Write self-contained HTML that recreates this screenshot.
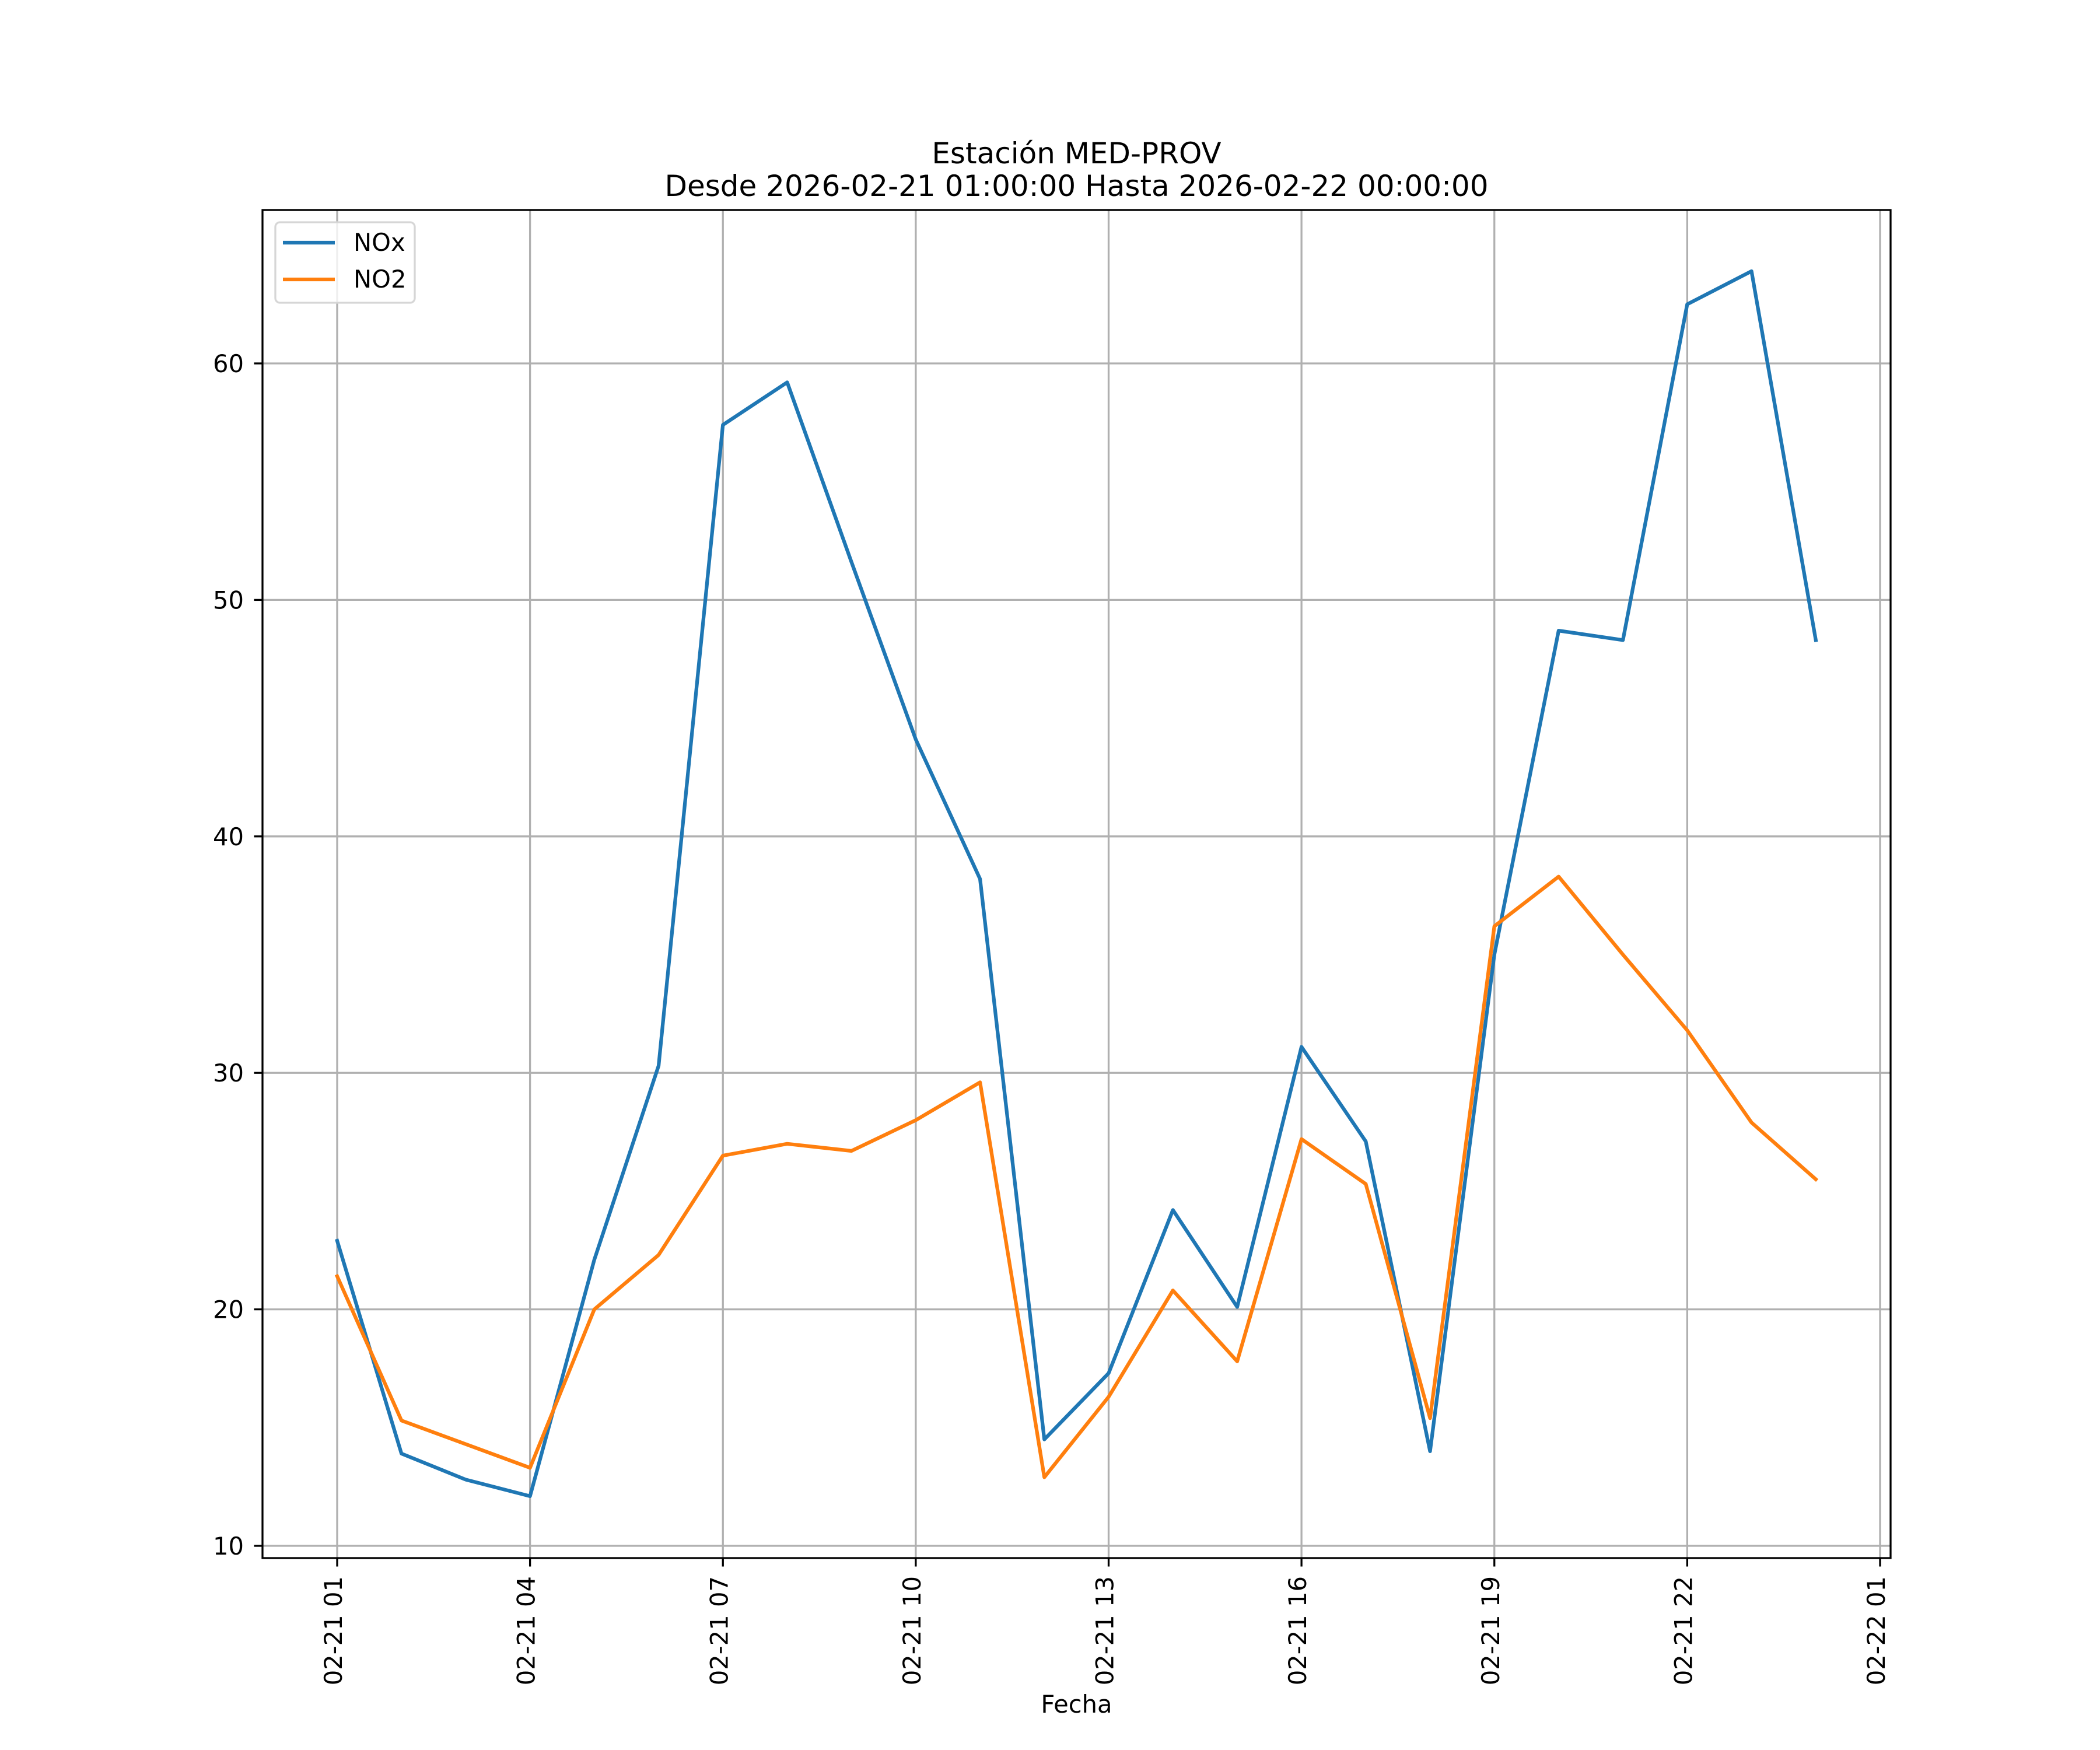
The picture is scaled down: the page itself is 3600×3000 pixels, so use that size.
<!DOCTYPE html>
<html><head><meta charset="utf-8"><style>
html,body{margin:0;padding:0;background:#fff}
svg{display:block}
text{font-family:"DejaVu Sans","Liberation Sans",sans-serif;fill:#000}
</style></head><body>
<svg id="chart" width="3600" height="3000" viewBox="0 0 3600 3000" xmlns="http://www.w3.org/2000/svg">
<rect width="3600" height="3000" fill="#fff"/>
<g id="grid"></g>
<g id="series"></g>
<rect x="450" y="360" width="2791" height="2311" fill="none" stroke="#000" stroke-width="3.3"/>
<g id="ticks"></g>
<text x="1845.5" y="280" font-size="50" text-anchor="middle">Estación MED-PROV</text>
<text x="1845.5" y="336" font-size="50" text-anchor="middle">Desde 2026-02-21 01:00:00 Hasta 2026-02-22 00:00:00</text>
<text x="1845.5" y="2936" font-size="41.67" text-anchor="middle">Fecha</text>
<g>
<rect x="472" y="381" width="239" height="138" fill="#fff" fill-opacity="0.8" stroke="#d6d6d6" stroke-width="3.3" rx="8"/>
<line x1="485" y1="416" x2="574" y2="416" stroke="#1f77b4" stroke-width="6.25"/>
<text x="606" y="430" font-size="41.67">NOx</text>
<line x1="485" y1="479" x2="574" y2="479" stroke="#ff7f0e" stroke-width="6.25"/>
<text x="606" y="493" font-size="41.67">NO2</text>
</g>
</svg>
<script>
const hours = [1,2,3,4,5,6,7,8,9,10,11,12,13,14,15,16,17,18,19,20,21,22,23,24];
const noxValues = [22.9,13.9,12.8,12.1,22.1,30.3,57.4,59.2,51.6,44.1,38.2,14.5,17.3,24.2,20.1,31.1,27.1,14.0,35.0,48.7,48.3,62.5,63.9,48.3];
const no2Values = [21.4,15.3,14.3,13.3,20.0,22.3,26.5,27.0,26.7,28.0,29.6,12.9,16.3,20.8,17.8,27.2,25.3,15.4,36.2,38.3,35.0,31.8,27.9,25.5];
const yTicks = [10,20,30,40,50,60];
const xTickHours = [1,4,7,10,13,16,19,22,25];
const xTickLabels = ["02-21 01","02-21 04","02-21 07","02-21 10","02-21 13","02-21 16","02-21 19","02-21 22","02-22 01"];

const NS="http://www.w3.org/2000/svg";
function xs(h){return 578+(h-1)*(3223-578)/24;}
function ys(v){return 2650-(v-10)*(2650-623)/50;}
function mk(tag,attrs,parent){const e=document.createElementNS(NS,tag);for(const k in attrs)e.setAttribute(k,attrs[k]);parent.appendChild(e);return e;}
const grid=document.getElementById('grid'),ticks=document.getElementById('ticks'),series=document.getElementById('series');
yTicks.forEach(v=>{
  const y=ys(v);
  const g=mk('line',{x1:450,x2:3241,y1:y,y2:y,stroke:'#b0b0b0','stroke-width':3.3},grid);
  
  
  const t=mk('line',{x1:435.5,x2:450,y1:y,y2:y,stroke:'#000','stroke-width':3.3},ticks);
  
  
  const l=mk('text',{x:418,y:y+15,'font-size':41.67,'text-anchor':'end'},ticks);
  l.textContent=v;
  
  
});
xTickHours.forEach((h,i)=>{
  const x=xs(h);
  const g=mk('line',{x1:x,x2:x,y1:360,y2:2671,stroke:'#b0b0b0','stroke-width':3.3},grid);
  
  
  const t=mk('line',{x1:x,x2:x,y1:2671,y2:2685.5,stroke:'#000','stroke-width':3.3},ticks);
  
  
  const l=mk('text',{x:0,y:0,'font-size':41.67,'text-anchor':'end',transform:`translate(${x+8},2702) rotate(-90)`},ticks);
  l.textContent=xTickLabels[i];
  
  
});
function line(vals,color,name){
  const p=mk('polyline',{points:vals.map((v,i)=>xs(hours[i])+','+ys(v)).join(' '),fill:'none',stroke:color,'stroke-width':6.25,'stroke-linejoin':'round','stroke-linecap':'square'},series);
  
  
}
line(noxValues,'#1f77b4','nox-line');
line(no2Values,'#ff7f0e','no2-line');
</script>
</body></html>
